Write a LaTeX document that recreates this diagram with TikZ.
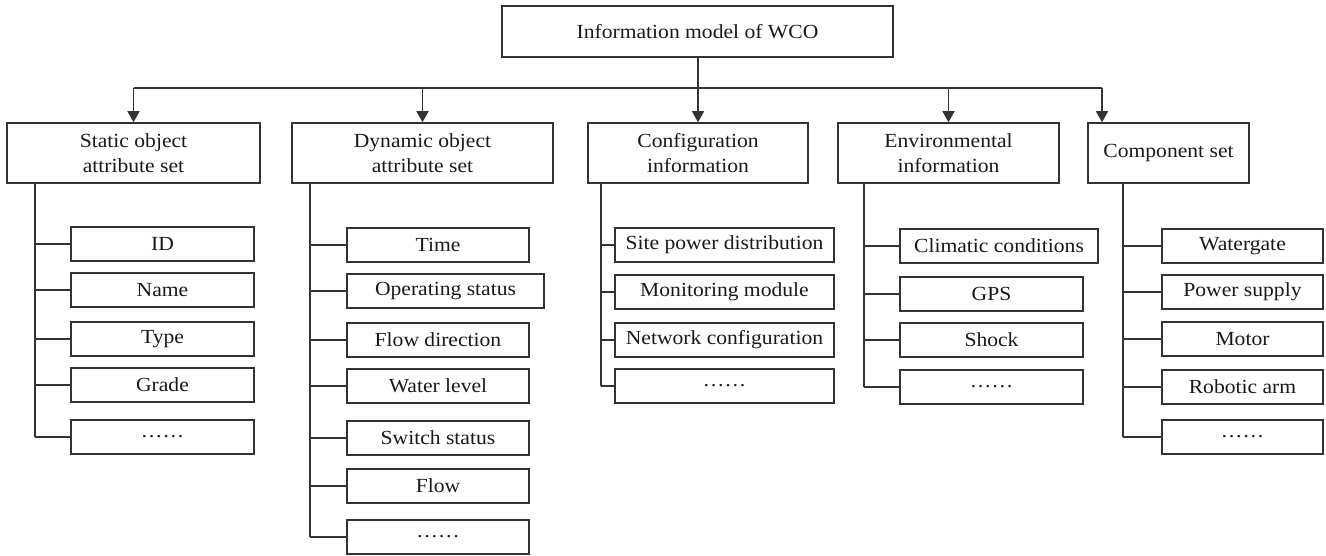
\documentclass[tikz,border=0pt]{standalone}
\usepackage{fontspec}
\setmainfont{Liberation Serif}[FakeStretch=1.08]
\usetikzlibrary{arrows.meta}
\begin{document}
\begin{tikzpicture}[x=1pt,y=-1pt,
  every node/.style={font=\fontsize{20}{25.5}\selectfont, text=black!90},
  box/.style={draw=black!80, line width=1.6pt, inner sep=0pt, align=center},
  head/.style={box, minimum height=60pt},
  item/.style={box, minimum height=34pt},
  link/.style={draw=black!80, line width=1.5pt},
  arr/.style={link, -{Triangle[length=11pt,width=12pt]}}]
\useasboundingbox (0,0) rectangle (1326,556);

% root
\node[box, minimum width=391pt, minimum height=51pt] (root) at (697.5,31.5) {Information model of WCO};

% first level
\node[head, minimum width=253pt] (stat) at (133.5,153) {Static object\\attribute set};
\node[head, minimum width=261pt] (dyn) at (422.5,153) {Dynamic object\\attribute set};
\node[head, minimum width=220pt] (conf) at (698,153) {Configuration\\information};
\node[head, minimum width=221pt] (env) at (948.5,153) {Environmental\\information};
\node[head, minimum width=161pt] (comp) at (1168.5,153) {Component set};

% bus
\coordinate (busL) at (133.5,88);
\coordinate (busR) at (1102,88);
\draw[link] (busL) -- (busR);
\draw[arr] (conf.north |- root.south) -- (conf.north);
\draw[arr] (stat.north |- busL) -- (stat.north);
\draw[arr] (dyn.north |- busL) -- (dyn.north);
\draw[arr] (env.north |- busL) -- (env.north);
\draw[arr] (busR) -- (busR |- comp.north);

% static attributes
\node[item, minimum width=183pt] (s1) at (162.5,244) {ID};
\node[item, minimum width=183pt] (s2) at (162.5,290) {Name};
\node[item, minimum width=183pt] (s3) at (162.5,339) {Type};
\node[item, minimum width=183pt] (s4) at (162.5,385) {Grade};
\node[item, minimum width=183pt] (s5) at (162.5,437) {……};

% dynamic attributes
\node[item, minimum width=182pt] (d1) at (438,245) {Time};
\node[item, minimum width=197pt] (d2) at (445.5,291) {Operating status};
\node[item, minimum width=182pt] (d3) at (438,340) {Flow direction};
\node[item, minimum width=182pt] (d4) at (438,386) {Water level};
\node[item, minimum width=182pt] (d5) at (438,438) {Switch status};
\node[item, minimum width=182pt] (d6) at (438,486) {Flow};
\node[item, minimum width=182pt] (d7) at (438,537) {……};

% configuration
\node[item, minimum width=219pt] (c1) at (724.5,245) {Site power distribution};
\node[item, minimum width=219pt] (c2) at (724.5,292) {Monitoring module};
\node[item, minimum width=219pt] (c3) at (724.5,340) {Network configuration};
\node[item, minimum width=219pt] (c4) at (724.5,386) {……};

% environment
\node[item, minimum width=198pt] (e1) at (999,246) {Climatic conditions};
\node[item, minimum width=183pt] (e2) at (991.5,294) {GPS};
\node[item, minimum width=183pt] (e3) at (991.5,340) {Shock};
\node[item, minimum width=183pt] (e4) at (991.5,387) {……};

% components
\node[item, minimum width=161pt] (k1) at (1242.5,246) {Watergate};
\node[item, minimum width=161pt] (k2) at (1242.5,292) {Power supply};
\node[item, minimum width=161pt] (k3) at (1242.5,339) {Motor};
\node[item, minimum width=161pt] (k4) at (1242.5,387) {Robotic arm};
\node[item, minimum width=161pt] (k5) at (1242.5,437) {……};

% trunks and branches
\coordinate (ts) at (35,0);
\coordinate (td) at (310,0);
\coordinate (tc) at (601,0);
\coordinate (te) at (864,0);
\coordinate (tk) at (1123,0);

\draw[link] (ts |- stat.south) -- (ts |- s5.west);
\foreach \c in {s1,s2,s3,s4,s5} \draw[link] (ts |- \c.west) -- (\c.west);

\draw[link] (td |- dyn.south) -- (td |- d7.west);
\foreach \c in {d1,d2,d3,d4,d5,d6,d7} \draw[link] (td |- \c.west) -- (\c.west);

\draw[link] (tc |- conf.south) -- (tc |- c4.west);
\foreach \c in {c1,c2,c3,c4} \draw[link] (tc |- \c.west) -- (\c.west);

\draw[link] (te |- env.south) -- (te |- e4.west);
\foreach \c in {e1,e2,e3,e4} \draw[link] (te |- \c.west) -- (\c.west);

\draw[link] (tk |- comp.south) -- (tk |- k5.west);
\foreach \c in {k1,k2,k3,k4,k5} \draw[link] (tk |- \c.west) -- (\c.west);
\end{tikzpicture}
\end{document}
